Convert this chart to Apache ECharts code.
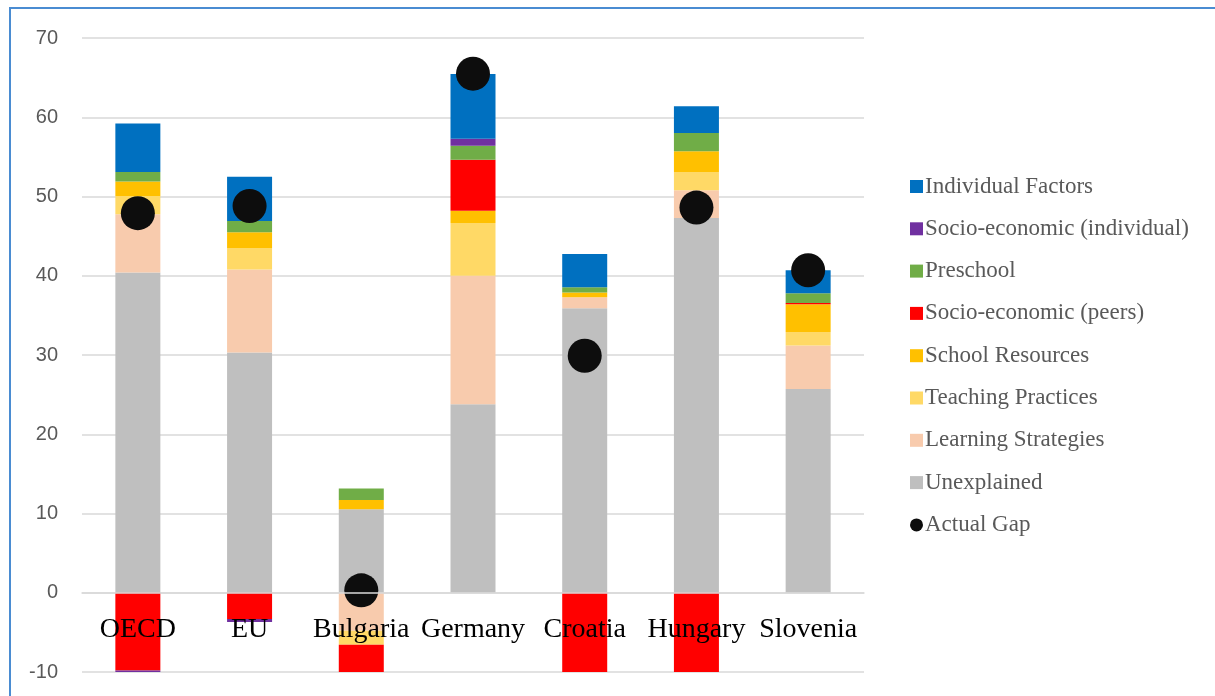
<!DOCTYPE html>
<html>
<head>
<meta charset="utf-8">
<script src="https://cdn.jsdelivr.net/npm/echarts@6/dist/echarts.min.js"></script>
<style>
  html, body { margin: 0; padding: 0; background: #fff; overflow: hidden; }
  #chart { width: 1215px; height: 696px; }
</style>
</head>
<body>
<div id="chart"></div>
<script>
const categories = ["OECD", "EU", "Bulgaria", "Germany", "Croatia", "Hungary", "Slovenia"]

// stacked from the bottom up (negatives stack downward in the same order)
const unexplained = [40.4, 30.3, 10.55, 23.8, 35.9, 47.3, 25.7]
const learningStrategies = [7.35, 10.5, -4.8, 16.2, 1.4, 3.5, 5.5]
const teachingPractices = [2.3, 2.7, -1.75, 6.65, 0, 2.3, 1.7]
const schoolResources = [1.85, 2.0, 1.15, 1.55, 0.6, 2.6, 3.5]
const socioPeers = [-9.8, -3.3, -3.7, 6.45, -11, -11, 0.15]
const preschool = [1.2, 1.4, 1.45, 1.75, 0.65, 2.3, 1.25]
const socioIndividual = [-0.4, -0.4, 0, 0.9, 0, 0, 0]
const individualFactors = [6.1, 5.6, 0, 8.15, 4.2, 3.4, 2.9]
const actualGap = [47.9, 48.8, 0.3, 65.5, 29.9, 48.6, 40.7]

const yTicks = { min: -10, max: 70, interval: 10 }

const stackSeries = [
  ["Unexplained", unexplained, "#bfbfbf"],
  ["Learning Strategies", learningStrategies, "#f8cbad"],
  ["Teaching Practices", teachingPractices, "#ffd966"],
  ["School Resources", schoolResources, "#ffc000"],
  ["Socio-economic (peers)", socioPeers, "#ff0000"],
  ["Preschool", preschool, "#70ad47"],
  ["Socio-economic (individual)", socioIndividual, "#7030a0"],
  ["Individual Factors", individualFactors, "#0070c0"],
]

const legendOrder = [
  "Individual Factors",
  "Socio-economic (individual)",
  "Preschool",
  "Socio-economic (peers)",
  "School Resources",
  "Teaching Practices",
  "Learning Strategies",
  "Unexplained",
]

const gridTop = 38
const gridBottom = 24
const chartHeight = 696

// category labels sit on the zero line, like the original
const plotHeight = chartHeight - gridTop - gridBottom
const zeroOffset = -plotHeight * (0 - yTicks.min) / (yTicks.max - yTicks.min)

const chart = echarts.init(document.getElementById("chart"))

chart.setOption({
  animation: false,
  graphic: [
    {
      type: "rect",
      shape: { x: 10, y: 8, width: 1300, height: 800 },
      style: { fill: "none", stroke: "#4a8cd2", lineWidth: 2 },
      z: 0,
    },
  ],
  grid: { left: 82, right: 351, top: gridTop, bottom: gridBottom, outerBoundsMode: "none", containLabel: false },
  legend: {
    orient: "vertical",
    left: 905,
    top: 170,
    itemWidth: 13,
    itemHeight: 13,
    itemGap: 19.3,
    textStyle: { fontFamily: "Liberation Serif", fontSize: 23, color: "#595959", padding: [0, 0, 0, -3] },
    data: legendOrder
      .map(name => ({ name, icon: "rect" }))
      .concat({ name: "Actual Gap", icon: "circle" }),
  },
  xAxis: {
    type: "category",
    data: categories,
    z: 10,
    position: "bottom",
    offset: zeroOffset,
    axisTick: { show: false },
    axisLine: { onZero: false, lineStyle: { color: "#d9d9d9", width: 1.5 } },
    axisLabel: {
      fontFamily: "Liberation Serif",
      fontSize: 28,
      color: "#000",
      margin: 23,
      interval: 0,
    },
  },
  yAxis: {
    type: "value",
    min: yTicks.min,
    max: yTicks.max,
    interval: yTicks.interval,
    axisLine: { show: false },
    axisTick: { show: false },
    splitLine: { lineStyle: { color: "#d9d9d9", width: 1.5 } },
    axisLabel: {
      fontFamily: "Liberation Sans",
      fontSize: 20,
      color: "#595959",
      margin: 24,
    },
  },
  series: stackSeries
    .map(([name, values, color]) => ({
      name,
      type: "bar",
      stack: "gap",
      barWidth: 45,
      clip: true,
      itemStyle: { color },
      data: values,
    }))
    .concat({
      name: "Actual Gap",
      type: "scatter",
      symbol: "circle",
      symbolSize: 34,
      z: 5,
      itemStyle: { color: "#0d0d0d", opacity: 1 },
      data: actualGap,
    }),
})
</script>
</body>
</html>
